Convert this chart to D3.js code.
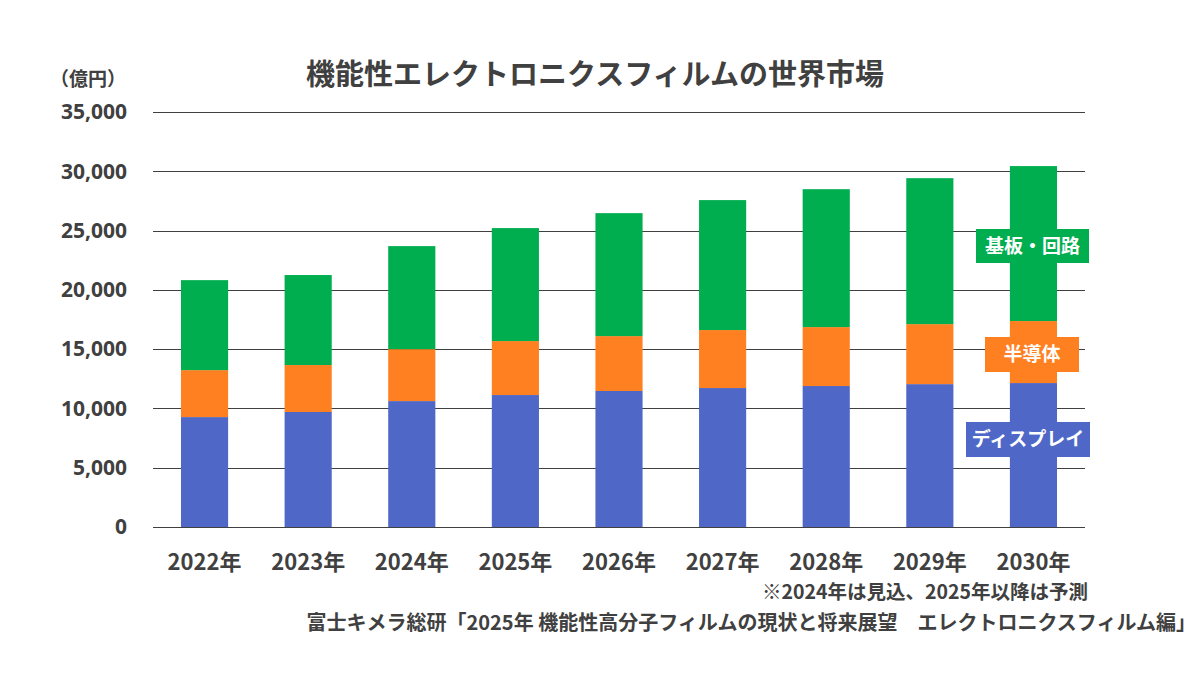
<!DOCTYPE html>
<html>
<head>
<meta charset="utf-8">
<script src="https://cdn.jsdelivr.net/npm/d3@7"></script>
<style>
  body { margin: 0; background: #fff; }
  svg { font-family: "Noto Sans CJK JP", "Noto Sans", sans-serif; font-weight: bold; }
</style>
</head>
<body>
<script>
// Chart data
var years = ["2022年", "2023年", "2024年", "2025年", "2026年", "2027年", "2028年", "2029年", "2030年"];
var seriesNames = ["ディスプレイ", "半導体", "基板・回路"];
var display = [9270, 9700, 10620, 11130, 11470, 11720, 11890, 12050, 12140];
var semicon = [3960, 3960, 4380, 4550, 4630, 4890, 4970, 5060, 5230];
var board = [7590, 7590, 8690, 9530, 10370, 10960, 11630, 12310, 13070];
var yTicks = [0, 5000, 10000, 15000, 20000, 25000, 30000, 35000];

var colors = ["#4F68C7", "#FF8021", "#00AE50"];
var textColor = "#404040";

var W = 1200, H = 675;
var plot = { left: 153, right: 1085, top: 112, bottom: 527 };

var svg = d3.select("body").append("svg")
    .attr("width", W)
    .attr("height", H);

// build table for stacking
var keys = ["display", "semicon", "board"];
var table = years.map(function (y, i) {
    return { year: y, display: display[i], semicon: semicon[i], board: board[i] };
});
var stacked = d3.stack().keys(keys)(table);

var xScale = d3.scaleBand()
    .domain(years)
    .range([plot.left, plot.right])
    .paddingInner(0.545)
    .paddingOuter(0.27);

var yScale = d3.scaleLinear()
    .domain([0, 35000])
    .range([plot.bottom, plot.top]);

// gridlines
svg.append("g")
    .selectAll("line")
    .data(yTicks)
    .enter().append("line")
        .attr("x1", plot.left)
        .attr("x2", plot.right)
        .attr("y1", function (d) { return Math.round(yScale(d)) + 0.5; })
        .attr("y2", function (d) { return Math.round(yScale(d)) + 0.5; })
        .attr("stroke", "#404040")
        .attr("stroke-width", 1.2);

// bars
svg.append("g")
    .selectAll("g")
    .data(stacked)
    .enter().append("g")
        .attr("fill", function (d, i) { return colors[i]; })
    .selectAll("rect")
    .data(function (d) { return d; })
    .enter().append("rect")
        .attr("x", function (d) { return xScale(d.data.year); })
        .attr("y", function (d) { return yScale(d[1]); })
        .attr("width", xScale.bandwidth())
        .attr("height", function (d) { return yScale(d[0]) - yScale(d[1]); });

// y axis labels
var yAxis = d3.axisLeft(yScale)
    .tickValues(yTicks)
    .tickFormat(d3.format(","))
    .tickSize(0)
    .tickPadding(0);
var yg = svg.append("g")
    .attr("transform", "translate(127,0)")
    .call(yAxis);
yg.select(".domain").remove();
yg.selectAll("text")
    .attr("fill", textColor)
    .attr("font-size", 21)
    .attr("font-family", "'Noto Sans', sans-serif")
    .attr("font-weight", "bold");

// x axis labels
var xAxis = d3.axisBottom(xScale).tickSize(0).tickPadding(0);
var xg = svg.append("g")
    .attr("transform", "translate(0,554)")
    .call(xAxis);
xg.select(".domain").remove();
xg.selectAll("text")
    .attr("fill", textColor)
    .attr("font-size", 22)
    .attr("font-family", "'Noto Sans CJK JP', sans-serif")
    .attr("font-weight", "bold");

// unit
svg.append("text")
    .attr("x", 88)
    .attr("y", 86)
    .attr("text-anchor", "middle")
    .attr("fill", textColor)
    .attr("font-size", 19)
    .text("（億円）");

// title
svg.append("text")
    .attr("x", 595)
    .attr("y", 85)
    .attr("text-anchor", "middle")
    .attr("fill", textColor)
    .attr("font-size", 29)
    .text("機能性エレクトロニクスフィルムの世界市場");

// series labels on last bar
var labelBoxes = [
    { x: 966, y: 422, w: 124, h: 35 },
    { x: 985, y: 337, w: 94, h: 35 },
    { x: 976, y: 229, w: 113, h: 34 }
];
var lbl = svg.append("g")
    .selectAll("g")
    .data(seriesNames)
    .enter().append("g");
lbl.append("rect")
    .attr("x", function (d, i) { return labelBoxes[i].x; })
    .attr("y", function (d, i) { return labelBoxes[i].y; })
    .attr("width", function (d, i) { return labelBoxes[i].w; })
    .attr("height", function (d, i) { return labelBoxes[i].h; })
    .attr("fill", function (d, i) { return colors[i]; });
lbl.append("text")
    .attr("x", function (d, i) { return labelBoxes[i].x + labelBoxes[i].w / 2; })
    .attr("y", function (d, i) { return labelBoxes[i].y + labelBoxes[i].h / 2; })
    .attr("dy", "0.36em")
    .attr("text-anchor", "middle")
    .attr("fill", "#fff")
    .attr("font-size", 19)
    .text(function (d) { return d; });

// notes
svg.append("text")
    .attr("x", 1088)
    .attr("y", 599)
    .attr("text-anchor", "end")
    .attr("fill", textColor)
    .attr("font-size", 19.5)
    .text("※2024年は見込、2025年以降は予測");

svg.append("text")
    .attr("x", 1196)
    .attr("y", 630)
    .attr("text-anchor", "end")
    .attr("fill", textColor)
    .attr("font-size", 20)
    .text("富士キメラ総研「2025年 機能性高分子フィルムの現状と将来展望　エレクトロニクスフィルム編」");
</script>
</body>
</html>
